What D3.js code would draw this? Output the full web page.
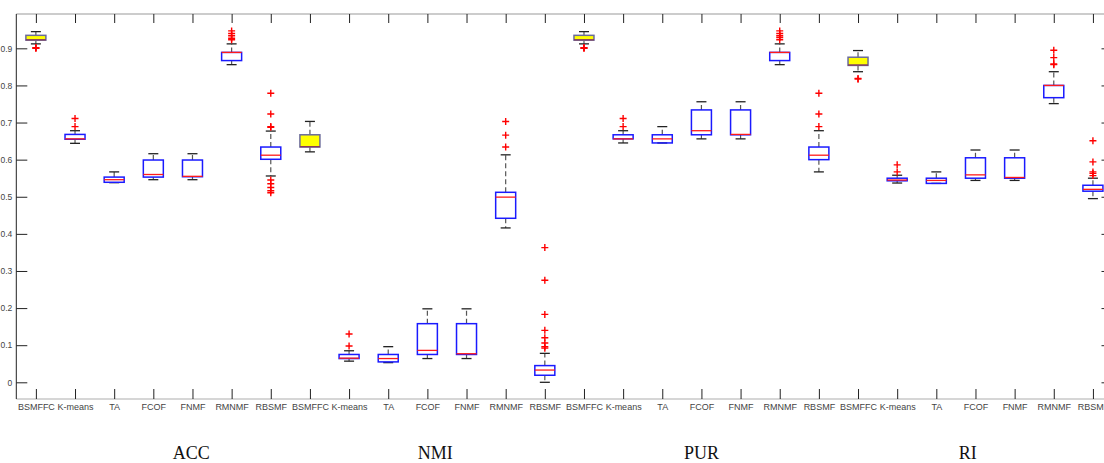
<!DOCTYPE html>
<html>
<head>
<meta charset="utf-8">
<script src="https://cdn.jsdelivr.net/npm/d3@7"></script>
<style>
  html, body { margin: 0; padding: 0; background: #fff; }
  svg { display: block; }
</style>
</head>
<body>
<svg id="chart" width="1104" height="463"></svg>
<script>
// Methods repeated for each of the four metrics
const methods = ["BSMFFC", "K-means", "TA", "FCOF", "FNMF", "RMNMF", "RBSMF"];
const metrics = ["ACC", "NMI", "PUR", "RI"];
const metricLabelPos = [4.97, 11.2, 18.0, 24.8];
const yTicks = [0, 0.1, 0.2, 0.3, 0.4, 0.5, 0.6, 0.7, 0.8, 0.9];

// Box statistics, one entry per box (7 methods x 4 metrics)
const whiskerLow = [
  0.912, 0.644, 0.538, 0.546, 0.546, 0.856, 0.556,
  0.621, 0.057, 0.053, 0.064, 0.064, 0.416, 0.000,
  0.912, 0.645, 0.645, 0.656, 0.656, 0.856, 0.567,
  0.837, 0.537, 0.536, 0.544, 0.544, 0.751, 0.495
];
const quartile1 = [
  0.922, 0.655, 0.539, 0.553, 0.554, 0.867, 0.601,
  0.634, 0.064, 0.055, 0.075, 0.075, 0.442, 0.019,
  0.922, 0.656, 0.645, 0.667, 0.667, 0.867, 0.600,
  0.854, 0.543, 0.536, 0.550, 0.550, 0.767, 0.515
];
const medians = [
  0.923, 0.656, 0.546, 0.560, 0.555, 0.889, 0.612,
  0.635, 0.065, 0.064, 0.086, 0.077, 0.499, 0.033,
  0.923, 0.656, 0.656, 0.678, 0.668, 0.889, 0.612,
  0.855, 0.545, 0.544, 0.559, 0.552, 0.800, 0.520
];
const quartile3 = [
  0.935, 0.668, 0.553, 0.599, 0.599, 0.889, 0.634,
  0.667, 0.075, 0.075, 0.158, 0.158, 0.512, 0.045,
  0.935, 0.667, 0.667, 0.734, 0.734, 0.889, 0.634,
  0.876, 0.550, 0.550, 0.605, 0.605, 0.800, 0.531
];
const whiskerHigh = [
  0.945, 0.678, 0.567, 0.616, 0.616, 0.912, 0.677,
  0.703, 0.085, 0.096, 0.198, 0.198, 0.613, 0.078,
  0.945, 0.678, 0.689, 0.756, 0.756, 0.912, 0.678,
  0.894, 0.558, 0.567, 0.626, 0.626, 0.837, 0.550
];
const outliers = [
  [0.901, 0.900, 0.902], [0.711, 0.689], [], [], [], [0.947, 0.940, 0.934, 0.927, 0.923],
  [0.779, 0.723, 0.689, 0.687, 0.545, 0.535, 0.525, 0.516, 0.511],
  [], [0.130, 0.098], [], [], [], [0.703, 0.666, 0.634],
  [0.363, 0.275, 0.183, 0.140, 0.120, 0.106, 0.096, 0.092],
  [0.901, 0.900, 0.902], [0.711, 0.689], [], [], [], [0.947, 0.940, 0.934, 0.929, 0.923],
  [0.779, 0.723, 0.689],
  [0.819, 0.817], [0.586, 0.567], [], [], [], [0.895, 0.875, 0.856, 0.858],
  [0.651, 0.594, 0.567, 0.563, 0.557]
];

const nBoxes = methods.length * metrics.length;
const boxes = d3.range(nBoxes).map(i => ({
  pos: i + 1,
  method: methods[i % methods.length],
  lo: whiskerLow[i], q1: quartile1[i], med: medians[i], q3: quartile3[i], hi: whiskerHigh[i],
  out: outliers[i]
}));

const svg = d3.select("#chart");
const W = 1104, H = 463;
const plot = { left: 16.3, top: 14, right: 16.3 + 28 * 39.15, bottom: 399 };

const x = d3.scaleLinear().domain([0.5, nBoxes + 0.5]).range([plot.left, plot.right]);
const y = d3.scaleLinear().domain([-0.045, 0.9925]).range([plot.bottom, plot.top]);

svg.append("rect").attr("width", W).attr("height", H).attr("fill", "#fff");

const boxHalf = 10, capHalf = 5;
const g = svg.append("g");

// Whiskers (dashed) and caps
const bx = g.selectAll("g.box").data(boxes).join("g").attr("class", "box");
bx.append("line")
  .attr("x1", d => x(d.pos)).attr("x2", d => x(d.pos))
  .attr("y1", d => y(d.q3)).attr("y2", d => y(d.hi))
  .attr("stroke", "#555").attr("stroke-width", 1.2).attr("stroke-dasharray", "5,3");
bx.append("line")
  .attr("x1", d => x(d.pos)).attr("x2", d => x(d.pos))
  .attr("y1", d => y(d.q1)).attr("y2", d => y(d.lo))
  .attr("stroke", "#555").attr("stroke-width", 1.2).attr("stroke-dasharray", "5,3");
bx.append("line")
  .attr("x1", d => x(d.pos) - capHalf).attr("x2", d => x(d.pos) + capHalf)
  .attr("y1", d => y(d.hi)).attr("y2", d => y(d.hi))
  .attr("stroke", "#222").attr("stroke-width", 1.3);
bx.append("line")
  .attr("x1", d => x(d.pos) - capHalf).attr("x2", d => x(d.pos) + capHalf)
  .attr("y1", d => y(d.lo)).attr("y2", d => y(d.lo))
  .attr("stroke", "#222").attr("stroke-width", 1.3);

// Boxes: BSMFFC filled yellow
bx.append("rect")
  .attr("x", d => x(d.pos) - boxHalf)
  .attr("width", boxHalf * 2)
  .attr("y", d => y(d.q3))
  .attr("height", d => Math.max(0.5, y(d.q1) - y(d.q3)))
  .attr("fill", d => d.method === "BSMFFC" ? "#ffff00" : "none")
  .attr("stroke", d => d.method === "BSMFFC" ? "#6b6b9a" : "#1a1aff")
  .attr("stroke-width", 1.5);

// Medians
bx.append("line")
  .attr("x1", d => x(d.pos) - boxHalf).attr("x2", d => x(d.pos) + boxHalf)
  .attr("y1", d => y(d.med)).attr("y2", d => y(d.med))
  .attr("stroke", d => d.method === "BSMFFC" ? "#8a3a5a" : "#ff1a1a")
  .attr("stroke-width", 1.3);

// Outliers as red plus markers
const ps = 3.5;
bx.each(function(d) {
  d3.select(this).selectAll("path.out").data(d.out).join("path")
    .attr("class", "out")
    .attr("d", v => {
      const cx = x(d.pos), cy = y(v);
      return `M${cx - ps},${cy}H${cx + ps}M${cx},${cy - ps}V${cy + ps}`;
    })
    .attr("stroke", "#ff0000").attr("stroke-width", 1.4).attr("fill", "none");
});

// Axes frame
const frame = svg.append("g");
frame.append("line").attr("x1", plot.left).attr("x2", plot.right).attr("y1", plot.top).attr("y2", plot.top)
  .attr("stroke", "#999").attr("stroke-width", 1);
frame.append("line").attr("x1", plot.left).attr("x2", plot.right).attr("y1", plot.bottom).attr("y2", plot.bottom)
  .attr("stroke", "#c8c8c8").attr("stroke-width", 1.5);
frame.append("line").attr("x1", plot.left).attr("x2", plot.left).attr("y1", plot.top).attr("y2", plot.bottom)
  .attr("stroke", "#222").attr("stroke-width", 1);

// Y axis (ticks pointing inward) and mirrored ticks on the right
const yAxis = d3.axisLeft(y).tickValues(yTicks).tickSize(-11).tickPadding(4)
  .tickFormat(d => d === 0 ? "0" : d3.format(".1f")(d));
const ya = svg.append("g").attr("transform", `translate(${plot.left},0)`).call(yAxis);
ya.select(".domain").remove();
ya.selectAll(".tick line").attr("stroke", "#222");
ya.selectAll(".tick text").attr("font-family", "Liberation Sans, Arial, sans-serif")
  .attr("font-size", 8.5).attr("fill", "#444");

const yr = svg.append("g").attr("transform", `translate(${plot.right},0)`)
  .call(d3.axisRight(y).tickValues(yTicks).tickSize(-11).tickFormat(""));
yr.select(".domain").remove();
yr.selectAll(".tick line").attr("stroke", "#222");

// X axis: method names under each box, ticks inward at top and bottom
const xPos = boxes.map(d => d.pos);
const xAxis = d3.axisBottom(x).tickValues(xPos).tickSize(-10).tickPadding(5)
  .tickFormat((d, i) => boxes[i].method);
const xa = svg.append("g").attr("transform", `translate(0,${plot.bottom})`).call(xAxis);
xa.select(".domain").remove();
xa.selectAll(".tick line").attr("stroke", "#222");
xa.selectAll(".tick text").attr("font-family", "Liberation Sans, Arial, sans-serif")
  .attr("font-size", 9).attr("fill", "#444");

const xt = svg.append("g").attr("transform", `translate(0,${plot.top})`)
  .call(d3.axisTop(x).tickValues(xPos).tickSize(-9).tickFormat(""));
xt.select(".domain").remove();
xt.selectAll(".tick line").attr("stroke", "#222");

// Metric names under each group
svg.append("g").selectAll("text").data(metrics).join("text")
  .attr("x", (d, i) => x(metricLabelPos[i]))
  .attr("y", 459)
  .attr("text-anchor", "middle")
  .attr("font-family", "Liberation Serif, Times New Roman, serif")
  .attr("font-size", 18)
  .attr("fill", "#111")
  .text(d => d);
</script>
</body>
</html>
